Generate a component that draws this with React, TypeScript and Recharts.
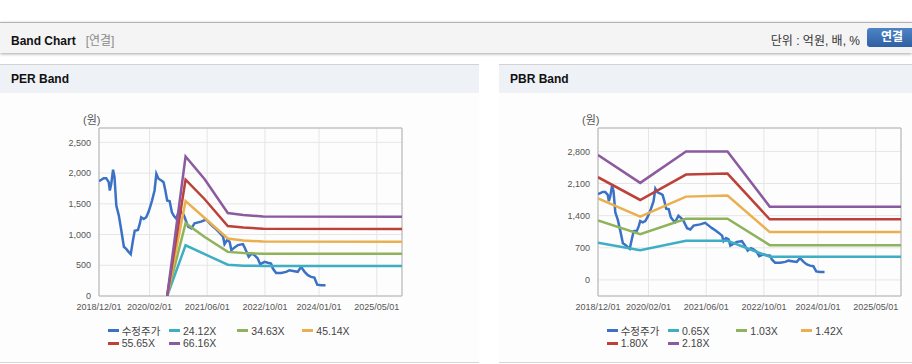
import React from "react";
import { LineChart, Line, XAxis, YAxis, CartesianGrid, ReferenceArea } from "recharts";

// x values are months counted from 2018/12/01
const xTicks = [0, 14, 30, 46, 61, 77];
const xTickLabels = ["2018/12/01", "2020/02/01", "2021/06/01", "2022/10/01", "2024/01/01", "2025/05/01"];

const priceMonths = [
  0, 0.65, 1.3, 2.0, 2.7, 3.0, 3.4, 3.9, 4.3, 4.8, 5.5, 6.2, 6.9, 7.6, 8.2, 8.8, 9.4, 9.9, 10.8, 11.3,
  11.7, 12.4, 13.1, 13.8, 14.7, 15.4, 15.9, 16.5, 17.3, 17.9, 18.4, 18.9, 19.6, 20.2, 20.8, 21.4, 22.3,
  23.5, 24.7, 25.6, 26.5, 28.3, 29.7, 30.7, 31.6, 32.5, 33.4, 34.4, 34.8, 35.5, 36.2, 36.7, 37.6, 38.5,
  39.9, 40.5, 41.5, 42.4, 43.1, 44.0, 44.7, 45.9, 46.8, 47.7, 48.2, 49.1, 50.5, 51.9, 52.8, 54.2, 55.1,
  56.0, 57.0, 57.9, 58.8, 59.7, 60.5, 61.6, 62.8,
];
const priceValues = [
  1870, 1891, 1918, 1918, 1853, 1717, 1826, 2055, 1935, 1471, 1308, 1063, 801, 763, 719, 681, 899, 1063, 1074, 1172,
  1281, 1253, 1281, 1379, 1553, 1717, 1989, 1908, 1880, 1853, 1717, 1553, 1542, 1363, 1300, 1260, 1400,
  1318, 1128, 1100, 1183, 1210, 1245, 1183, 1128, 1084, 1030, 965, 845, 910, 883, 747, 791, 829,
  845, 774, 638, 693, 665, 611, 518, 556, 540, 529, 447, 376, 376, 393, 420, 403, 393,
  474, 393, 338, 311, 300, 185, 174, 174,
];

const perBandMonths = [18.9, 24, 29.3, 35.7, 40, 45.5, 84];
const per2412 = [0, 825, 680, 510, 492, 490, 490];
const per3463 = [0, 1185, 960, 718, 700, 688, 686];
const per4514 = [0, 1545, 1270, 935, 905, 885, 882];
const per5565 = [0, 1895, 1575, 1138, 1115, 1095, 1092];
const per6616 = [0, 2270, 1900, 1350, 1320, 1292, 1290];
const perLabels = ["수정주가", "24.12X", "34.63X", "45.14X", "55.65X", "66.16X"];
const perYTicks = [0, 500, 1000, 1500, 2000, 2500];

const pbrBandMonths = [0, 11.7, 24.4, 35.9, 47.6, 84];
const pbr065 = [809, 649, 853, 853, 503, 503];
const pbr103 = [1298, 999, 1334, 1334, 758, 758];
const pbr142 = [1779, 1378, 1815, 1837, 1042, 1042];
const pbr180 = [2238, 1742, 2296, 2318, 1320, 1320];
const pbr218 = [2720, 2114, 2800, 2800, 1597, 1597];
const pbrLabels = ["수정주가", "0.65X", "1.03X", "1.42X", "1.80X", "2.18X"];
const pbrYTicks = [0, 700, 1400, 2100, 2800];

const colors = ["#3b72c6", "#3daec3", "#8fb35a", "#eab04f", "#bb4139", "#8b5a9f"];
const FONT = '"Liberation Sans", Arial, "Noto Sans CJK KR", sans-serif';

const toPoints = (ms: number[], vs: number[]) => ms.map((m, i) => ({ m, v: vs[i] }));

function Legend({ labels }: { labels: string[] }) {
  const cols = [107.7, 169, 237.3, 302.3];
  return (
    <div style={{ position: "absolute", left: 0, top: 324, width: 479, height: 30 }}>
      {labels.map((l, i) => (
        <div
          key={l}
          style={{
            position: "absolute",
            left: cols[i % 4],
            top: i < 4 ? 0 : 12.6,
            height: 13,
            display: "flex",
            alignItems: "center",
            fontSize: 10.5,
            color: "#444",
            whiteSpace: "nowrap",
          }}
        >
          <span style={{ display: "inline-block", width: 11, height: 3, background: colors[i], marginRight: 3 }} />
          {l}
        </div>
      ))}
    </div>
  );
}

function BandPanel({
  left,
  width,
  title,
  bandMonths,
  bands,
  labels,
  yTicks,
  yDomain,
}: {
  left: number;
  width: number;
  title: string;
  bandMonths: number[];
  bands: number[][];
  labels: string[];
  yTicks: number[];
  yDomain: [number, number];
}) {
  const price = toPoints(priceMonths, priceValues);
  return (
    <div style={{ position: "absolute", left, top: 64, width, height: 299 }}>
      <div
        style={{
          position: "absolute",
          left: 0,
          top: 0,
          width,
          height: 28,
          borderTop: "1px solid #d3d3d3",
          background: "#eef2f7",
        }}
      >
        <span style={{ position: "absolute", left: 11, top: 7, fontSize: 12, fontWeight: 700, color: "#111" }}>
          {title}
        </span>
      </div>
      <div
        style={{
          position: "absolute",
          left: 0,
          top: 29,
          width,
          height: 269,
          background: "#fdfdfd",
          borderBottom: "1px solid #d6d6d6",
        }}
      />
      <div style={{ position: "absolute", left: 83, top: 47, fontSize: 11, color: "#555" }}>(원)</div>
      <div style={{ position: "absolute", left: 0, top: 36 }}>
        <LineChart width={479} height={215} margin={{ top: 28, right: 77, bottom: 0, left: 0 }}>
          <CartesianGrid stroke="#e6e6e6" />
          <XAxis
            type="number"
            dataKey="m"
            domain={[0, 84]}
            ticks={xTicks}
            tickFormatter={(m: number) => xTickLabels[xTicks.indexOf(m)]}
            axisLine={false}
            tickLine={false}
            height={19}
            tick={{ fontSize: 9, fill: "#555" }}
            interval={0}
            allowDataOverflow
          />
          <YAxis
            type="number"
            domain={yDomain}
            ticks={yTicks}
            tickFormatter={(n: number) => n.toLocaleString("en-US")}
            axisLine={false}
            tickLine={false}
            width={99}
            tick={{ fontSize: 9, fill: "#555" }}
            interval={0}
            allowDataOverflow
          />
          <ReferenceArea x1={0} x2={84} y1={yDomain[0]} y2={yDomain[1]} fill="none" stroke="#b3b3b3" />
          <Line
            data={price}
            dataKey="v"
            type="linear"
            stroke={colors[0]}
            strokeWidth={2.5}
            dot={false}
            isAnimationActive={false}
          />
          {bands.map((b, i) => (
            <Line
              key={labels[i + 1]}
              data={toPoints(bandMonths, b)}
              dataKey="v"
              type="linear"
              stroke={colors[i + 1]}
              strokeWidth={2.5}
              dot={false}
              isAnimationActive={false}
            />
          ))}
        </LineChart>
      </div>
      <div style={{ position: "absolute", left: 0, top: -64 }}>
        <Legend labels={labels} />
      </div>
    </div>
  );
}

export default function App() {
  return (
    <div
      style={{
        position: "absolute",
        left: 0,
        top: 0,
        width: 912,
        height: 364,
        overflow: "hidden",
        background: "#fff",
        fontFamily: FONT,
      }}
    >
      <div
        style={{
          position: "absolute",
          left: 0,
          top: 22,
          width: 912,
          height: 30,
          borderTop: "1px solid #b2b2b2",
          background: "#f4f4f4",
          boxShadow: "0 1px 3px rgba(0,0,0,0.35)",
        }}
      >
        <span style={{ position: "absolute", left: 11, top: 8, fontSize: 12, fontWeight: 700, color: "#111" }}>
          Band Chart
          <span style={{ fontWeight: 400, color: "#8a8a8a", marginLeft: 10 }}>[연결]</span>
        </span>
        <span style={{ position: "absolute", right: 52, top: 8, fontSize: 12, color: "#333" }}>단위 : 억원, 배, %</span>
        <div
          style={{
            position: "absolute",
            left: 867,
            top: 5,
            width: 50,
            height: 19,
            borderRadius: 3,
            background: "linear-gradient(#4d84c6, #2f60a3)",
            color: "#fff",
            fontSize: 12,
            fontWeight: 700,
            lineHeight: "19px",
            textAlign: "center",
          }}
        >
          연결
        </div>
      </div>
      <BandPanel
        left={0}
        width={479}
        title="PER Band"
        bandMonths={perBandMonths}
        bands={[per2412, per3463, per4514, per5565, per6616]}
        labels={perLabels}
        yTicks={perYTicks}
        yDomain={[0, 2734]}
      />
      <BandPanel
        left={499}
        width={413}
        title="PBR Band"
        bandMonths={pbrBandMonths}
        bands={[pbr065, pbr103, pbr142, pbr180, pbr218]}
        labels={pbrLabels}
        yTicks={pbrYTicks}
        yDomain={[-350, 3310]}
      />
    </div>
  );
}
